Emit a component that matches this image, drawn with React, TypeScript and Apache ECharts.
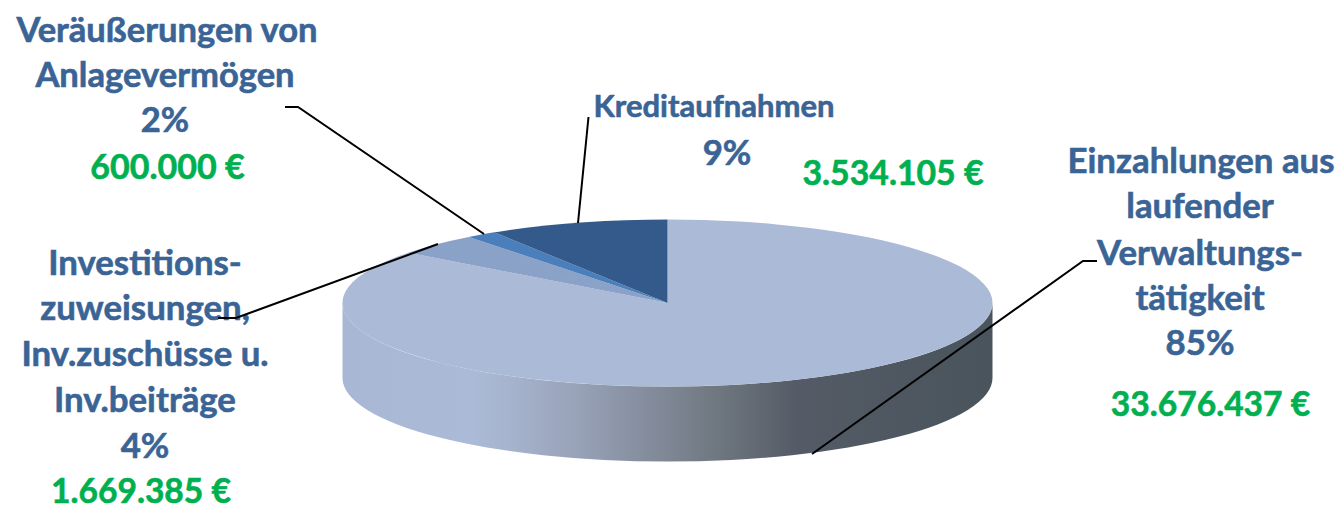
import React, { useEffect, useRef } from "react";
import * as echarts from "echarts";

const categories = [
  "Einzahlungen aus laufender Verwaltungstätigkeit",
  "Investitionszuweisungen, Inv.zuschüsse u. Inv.beiträge",
  "Veräußerungen von Anlagevermögen",
  "Kreditaufnahmen",
];
const amounts = [33676437, 1669385, 600000, 3534105];
const sliceColors = ["#abbad6", "#8aa2c8", "#4a7fbb", "#335a8a"];

const FONT = "Lato";
const BLUE = "#3a6495";
const GREEN = "#00b050";

const CX = 667.5, CY = 303, RX = 325, RY = 83.5, DEPTH = 75;
const WALL_STOPS = [
  { offset: 0, color: "#a8b7d3" },
  { offset: 0.2, color: "#abbad6" },
  { offset: 0.26, color: "#a6b3cd" },
  { offset: 0.36, color: "#98a2b8" },
  { offset: 0.5, color: "#7f8795" },
  { offset: 0.58, color: "#6e767f" },
  { offset: 0.7, color: "#545b66" },
  { offset: 1, color: "#49545c" },
];

// [text, centre x, centre y, colour, font size]
const labelLines: [string, number, number, string, number][] = [
  ["Veräußerungen von", 167, 28, BLUE, 34.6],
  ["Anlagevermögen", 165, 73, BLUE, 34.6],
  ["2%", 165, 118, BLUE, 34.6],
  ["600.000 €", 167.5, 165, GREEN, 34],
  ["Kreditaufnahmen", 714, 105, BLUE, 31],
  ["9%", 727, 151, BLUE, 34.8],
  ["3.534.105 €", 893, 171.5, GREEN, 33.8],
  ["Einzahlungen aus", 1201, 159, BLUE, 34.8],
  ["laufender", 1200, 204, BLUE, 34.8],
  ["Verwaltungs-", 1200, 251, BLUE, 34.8],
  ["tätigkeit", 1200, 296, BLUE, 34.8],
  ["85%", 1200, 341, BLUE, 34.8],
  ["33.676.437 €", 1210.5, 403, GREEN, 33.6],
  ["Investitions-", 145, 261, BLUE, 34.8],
  ["zuweisungen,", 145, 306, BLUE, 34.8],
  ["Inv.zuschüsse u.", 145, 352, BLUE, 34.8],
  ["Inv.beiträge", 145, 398, BLUE, 34.8],
  ["4%", 145, 444, BLUE, 34.8],
  ["1.669.385 €", 141, 490, GREEN, 33.6],
];

const leaderLines: [number, number][][] = [
  [[285, 107], [298, 107], [484, 234]],
  [[588.5, 117], [578, 223]],
  [[218, 318], [236, 318], [438, 244]],
  [[1097, 261], [1083, 261], [812, 454]],
];

const total = amounts.reduce((a, b) => a + b, 0);
const rad = (d: number) => (d * Math.PI) / 180;
const px = (t: number) => CX + RX * Math.sin(rad(t));
const py = (t: number) => CY - RY * Math.cos(rad(t));

function renderItem(params: any, api: any) {
  const i = params.dataIndex;
  const value = api.value(0);
  let before = 0;
  for (let k = 0; k < i; k++) before += amounts[k];
  const a0 = (before / total) * 360;
  const a1 = ((before + value) / total) * 360;
  const large = a1 - a0 > 180 ? 1 : 0;
  const children: any[] = [];

  const w0 = Math.max(a0, 90);
  const w1 = Math.min(a1, 270);
  if (w1 > w0) {
    const d =
      `M ${px(w0)} ${py(w0)} A ${RX} ${RY} 0 0 1 ${px(w1)} ${py(w1)} ` +
      `L ${px(w1)} ${py(w1) + DEPTH} A ${RX} ${RY} 0 0 0 ${px(w0)} ${py(w0) + DEPTH} Z`;
    children.push({
      type: "path",
      shape: { pathData: d },
      style: {
        fill: new echarts.graphic.LinearGradient(CX - RX, 0, CX + RX, 0, WALL_STOPS, true),
      },
    });
  }
  children.push({
    type: "path",
    shape: {
      pathData: `M ${CX} ${CY} L ${px(a0)} ${py(a0)} A ${RX} ${RY} 0 ${large} 1 ${px(a1)} ${py(a1)} Z`,
    },
    style: { fill: sliceColors[i] },
    z2: 5,
  });
  return { type: "group", children };
}

export default function App() {
  const ref = useRef<HTMLDivElement>(null);
  useEffect(() => {
    const chart = echarts.init(ref.current!, null, { renderer: "svg" });
    chart.setOption({
      animation: false,
      backgroundColor: "#ffffff",
      series: [
        {
          type: "custom",
          coordinateSystem: "none",
          renderItem,
          clip: false,
          silent: true,
          data: categories.map((name, i) => ({ name, value: [amounts[i]] })),
        },
      ],
      graphic: [
        ...leaderLines.map((points) => ({
          type: "polyline",
          z: 20,
          shape: { points },
          style: { stroke: "#000000", lineWidth: 2, fill: "none" },
        })),
        ...labelLines.map(([text, x, y, color, size]) => ({
          type: "text",
          z: 10,
          x,
          y,
          style: {
            text,
            fill: color,
            stroke: color,
            lineWidth: 0.6,
            font: `bold ${size}px ${FONT}`,
            textAlign: "center",
            textVerticalAlign: "middle",
          },
        })),
      ],
    });
    return () => chart.dispose();
  }, []);
  return (
    <div
      ref={ref}
      style={{ position: "fixed", left: 0, top: 0, width: 1340, height: 510 }}
    />
  );
}
